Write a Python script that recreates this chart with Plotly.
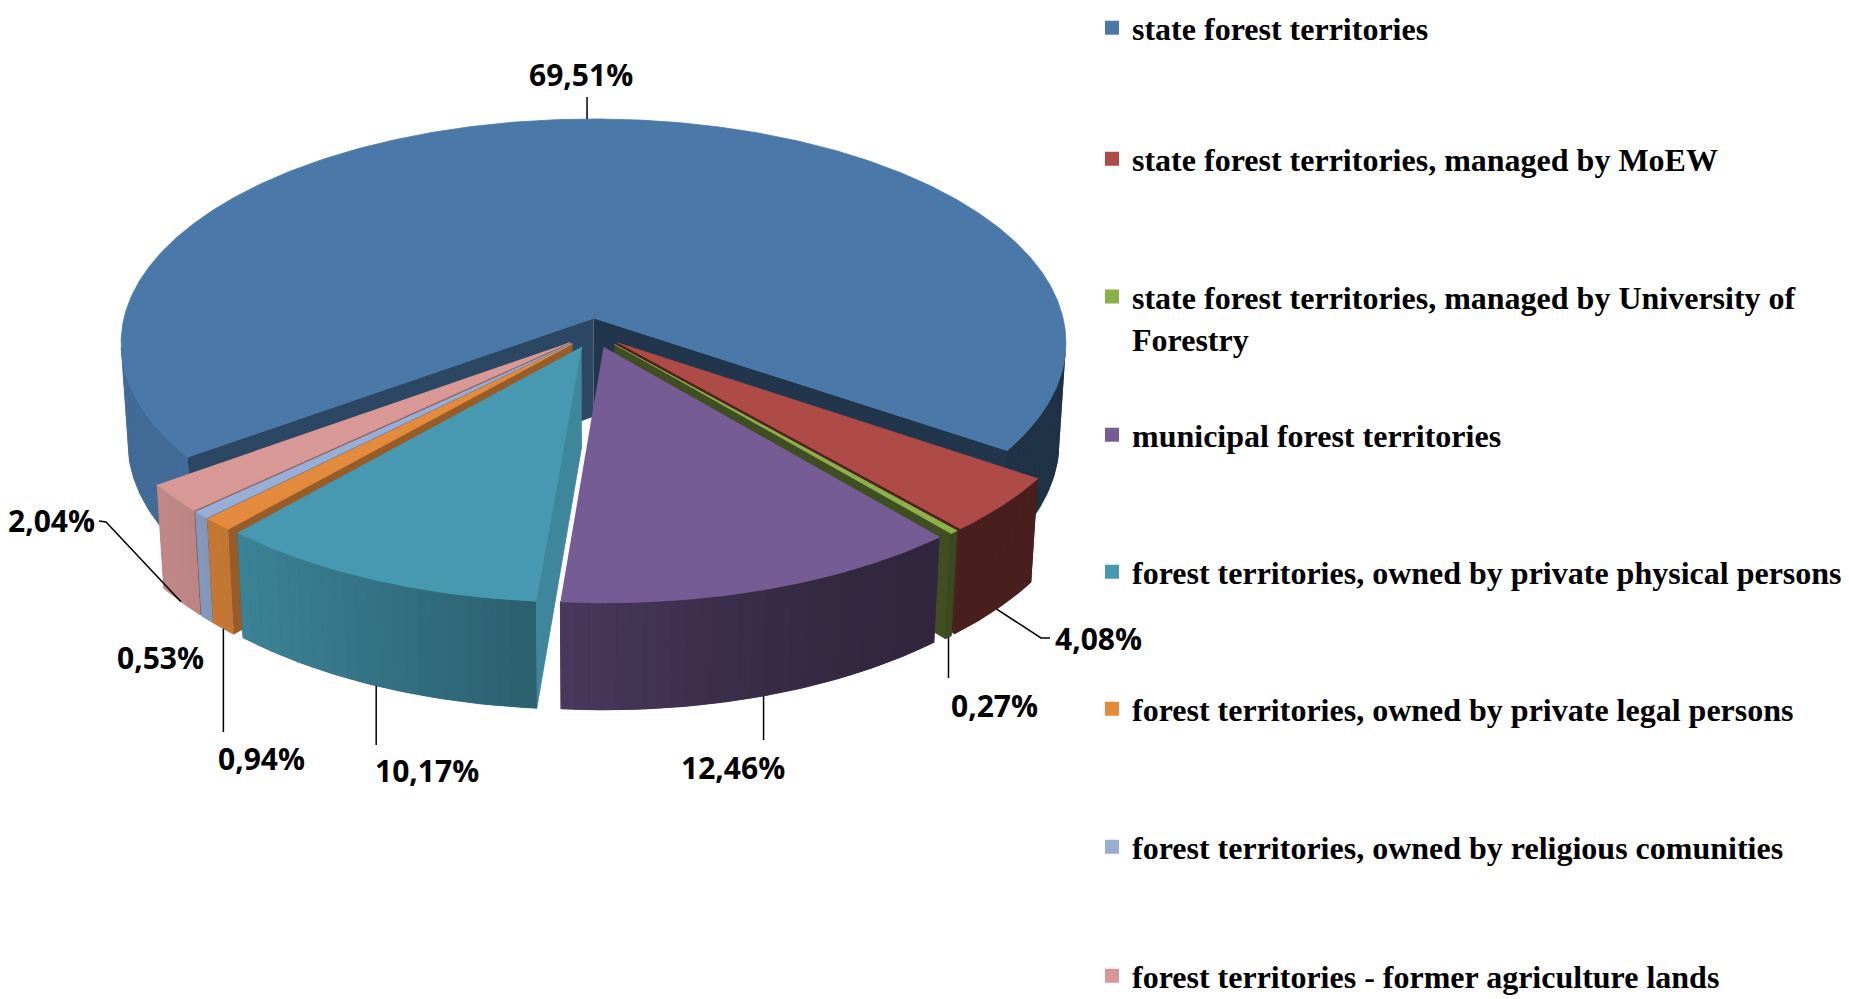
import math
import numpy as np
import plotly.graph_objects as go

# ---------------- data ----------------
categories = [
    "state forest territories",
    "state forest territories, managed by MoEW",
    "state forest territories, managed by University of<br>Forestry",
    "municipal forest territories",
    "forest territories, owned by private physical persons",
    "forest territories, owned by private legal persons",
    "forest territories, owned by religious comunities",
    "forest territories - former agriculture lands",
]
values = [69.51, 4.08, 0.27, 12.46, 10.17, 0.94, 0.53, 2.04]
colors = ["#4A78A9", "#AE4B47", "#8CB04B", "#765C94", "#4699B0", "#E38A3D", "#97AED6", "#D79896"]

# ---------------- 3D pie view settings ----------------
FIRST_ANGLE = 234.0      # first slice angle, degrees clockwise from 12 o'clock
EXPLODE = 0.066          # explosion as fraction of radius
TILT = math.radians(28.3)
DIST = 8.03
FOCAL = 3798.0
CX, CY = 594.0, 333.0
HEIGHT = 0.24
sa, ca = math.sin(TILT), math.cos(TILT)
CAM = (0.0, -DIST * ca, DIST * sa)

# window is 1849x999; page body keeps an 8px margin, so the figure is sized to fit
PAGE_OFF = 8
WIN_W, WIN_H = 1849, 999
W, H = WIN_W - PAGE_OFF, WIN_H - PAGE_OFF

# label layout (window pixel positions) and leader routing
label_pos = [(581, 74, "center"), (1053, 638, "left"), (994, 705, "center"), (733, 767, "center"),
             (427, 770, "center"), (261, 758, "center"), (160, 657, "center"), (97, 520, "right")]
leader_route = [("v", 97), ("p", [(1041, 638), (1050, 638)]), ("v", 678), ("v", 740),
                ("v", 745), ("v", 732), None, ("p", [(106, 522), (99, 521)])]
legend_first_line_y = [28, 159, 297, 435, 572, 709, 847, 976]
LEGEND_FONT = 32


def proj(X, Y, Z):
    depth = DIST + Y * ca - Z * sa
    return CX + FOCAL * X / depth, CY - FOCAL * (Y * sa + Z * ca) / depth


def rgb(h):
    return tuple(int(h[i:i + 2], 16) for i in (1, 3, 5))


def shade(h, f):
    r, g, b = rgb(h)
    return "rgb(%d,%d,%d)" % (min(255, r * f), min(255, g * f), min(255, b * f))


def smooth(t):
    t = min(1.0, max(0.0, t))
    return t * t * (3 - 2 * t)


def side_b(theta):
    th = theta % 360
    return 0.42 + 0.48 * smooth((th - 140) / 100.0)


def radial_b(phi):
    ph = phi % 360
    if 60 < ph < 180:
        return min(0.9, max(0.5, 0.88 - (ph - 95) * 0.0058))
    return 0.45


def visible(nx, ny, px, py):
    return nx * (CAM[0] - px) + ny * (CAM[1] - py) > 0


fig = go.Figure()

total = sum(values)
slices = []
a = FIRST_ANGLE
for i, v in enumerate(values):
    a1 = a + 360.0 * v / total
    mid = (a + a1) / 2
    m = math.radians(mid)
    ox, oy = EXPLODE * math.sin(m), EXPLODE * math.cos(m)
    slices.append(dict(i=i, a0=a, a1=a1, mid=mid, ox=ox, oy=oy))
    a = a1


def add_poly(xs, ys, col, lw=0.8):
    fig.add_trace(go.Scatter(x=xs, y=ys, mode="lines", fill="toself", fillcolor=col,
                             line=dict(color=col, width=lw), hoverinfo="skip", showlegend=False))


order = sorted(slices, key=lambda s: -math.cos(math.radians(s["mid"])))
for s in order:
    col = colors[s["i"]]
    ox, oy, a0, a1 = s["ox"], s["oy"], s["a0"], s["a1"]
    # radial cut faces
    for ang, sign in ((a0, -1), (a1, 1)):
        r = math.radians(ang)
        phi = ang + 90 * sign
        pr = math.radians(phi)
        nx, ny = math.sin(pr), math.cos(pr)
        if visible(nx, ny, ox, oy):
            ex, ey = ox + math.sin(r), oy + math.cos(r)
            pts = [proj(ox, oy, 0), proj(ex, ey, 0), proj(ex, ey, -HEIGHT), proj(ox, oy, -HEIGHT)]
            add_poly([p[0] for p in pts], [p[1] for p in pts], shade(col, radial_b(phi)))
    # curved outer side: visible runs, underlay + shaded strips
    nseg = max(1, int(math.ceil((a1 - a0) / 1.5)))
    ts = np.linspace(a0, a1, nseg + 1)
    runs, cur = [], []
    for k in range(nseg):
        tm = math.radians((ts[k] + ts[k + 1]) / 2)
        nx, ny = math.sin(tm), math.cos(tm)
        if visible(nx, ny, ox + nx, oy + ny):
            cur.append(k)
        elif cur:
            runs.append(cur)
            cur = []
    if cur:
        runs.append(cur)
    for run in runs:
        tt = np.radians(np.linspace(ts[run[0]], ts[run[-1] + 1], 3 * len(run) + 2))
        top = [proj(ox + math.sin(t), oy + math.cos(t), 0) for t in tt]
        bot = [proj(ox + math.sin(t), oy + math.cos(t), -HEIGHT) for t in tt[::-1]]
        pts = top + bot
        midang = (ts[run[0]] + ts[run[-1] + 1]) / 2
        add_poly([p[0] for p in pts], [p[1] for p in pts], shade(col, side_b(midang)), lw=0.8)
        for k in run:
            t0, t1 = math.radians(ts[k]), math.radians(ts[k + 1])
            p0 = (ox + math.sin(t0), oy + math.cos(t0))
            p1 = (ox + math.sin(t1), oy + math.cos(t1))
            q = [proj(p0[0], p0[1], 0), proj(p1[0], p1[1], 0), proj(p1[0], p1[1], -HEIGHT),
                 proj(p0[0], p0[1], -HEIGHT)]
            add_poly([p[0] for p in q], [p[1] for p in q], shade(col, side_b((ts[k] + ts[k + 1]) / 2)), lw=0)
    # top face
    arc = np.radians(np.linspace(a0, a1, max(2, int((a1 - a0) / 0.5) + 2)))
    pts = [proj(ox, oy, 0)] + [proj(ox + math.sin(t), oy + math.cos(t), 0) for t in arc]
    add_poly([p[0] for p in pts], [p[1] for p in pts], col)

# leader lines and labels
annotations = []
for s in slices:
    i = s["i"]
    m = math.radians(s["mid"])
    rx, ry = s["ox"] + math.sin(m), s["oy"] + math.cos(m)
    z = 0 if math.cos(m) > 0 else -HEIGHT
    ax_, ay_ = proj(rx, ry, z)
    route = leader_route[i]
    if route is not None:
        if route[0] == "v":
            lx, ly = [ax_, ax_], [ay_, route[1]]
        else:
            lx = [ax_] + [p[0] for p in route[1]]
            ly = [ay_] + [p[1] for p in route[1]]
        fig.add_trace(go.Scatter(x=lx, y=ly, mode="lines", line=dict(color="black", width=1.5),
                                 hoverinfo="skip", showlegend=False))
    tx, ty, anc = label_pos[i]
    annotations.append(dict(x=tx, y=ty, xref="x", yref="y", showarrow=False, xanchor=anc, yanchor="middle",
                            text=("%.2f" % values[i]).replace(".", ",") + "%",
                            font=dict(family="Open Sans", size=30, color="black", weight=700)))

# legend entries (one legend per item so each sits at its own row)
layout_legends = {}
for i, name in enumerate(categories):
    key = "legend" if i == 0 else "legend%d" % (i + 1)
    fig.add_trace(go.Scatter(x=[None], y=[None], mode="markers", name=name,
                             marker=dict(symbol="square", size=14, color=colors[i]),
                             legend=key, showlegend=True))
    nlines = name.count("<br>") + 1
    yc = legend_first_line_y[i] + (nlines - 1) * LEGEND_FONT * 1.3 / 2
    layout_legends[key] = dict(x=(1092 - PAGE_OFF) / W, xanchor="left", y=1 - (yc - PAGE_OFF) / H,
                               yanchor="middle", valign="top", bgcolor="rgba(0,0,0,0)", borderwidth=0,
                               font=dict(family="Liberation Serif", size=LEGEND_FONT, color="black", weight=700))

fig.update_layout(
    width=W, height=H, margin=dict(l=0, r=0, t=0, b=0, autoexpand=False),
    paper_bgcolor="white", plot_bgcolor="white",
    xaxis=dict(range=[PAGE_OFF, WIN_W], visible=False, fixedrange=True, domain=[0, 1]),
    yaxis=dict(range=[WIN_H, PAGE_OFF], visible=False, fixedrange=True, domain=[0, 1]),
    annotations=annotations, showlegend=True,
    **layout_legends,
)

fig.write_html("out.html")
